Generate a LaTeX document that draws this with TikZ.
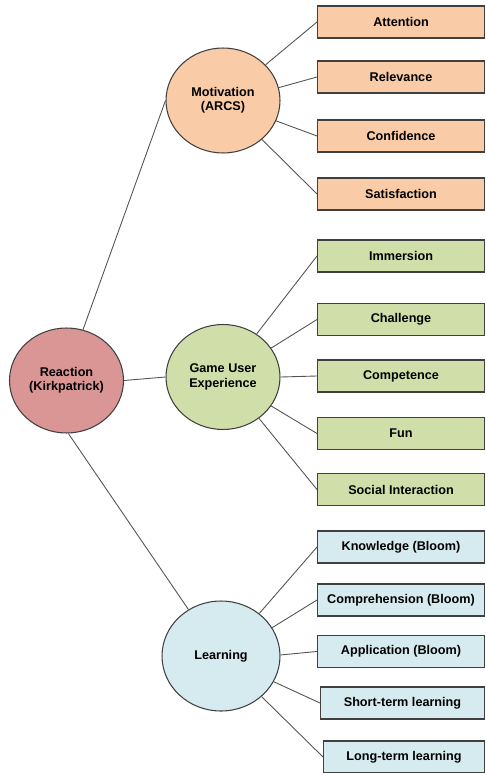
\documentclass[tikz,border=0pt]{standalone}
\usepackage{fontspec}
\setmainfont{Liberation Sans}
\usetikzlibrary{shapes.geometric}
\definecolor{reactred}{HTML}{D99694}
\definecolor{motorange}{HTML}{F9CBA6}
\definecolor{gamegreen}{HTML}{D0DFAA}
\definecolor{learnblue}{HTML}{D6EBF0}
\definecolor{edgegray}{HTML}{404040}
\tikzset{
  circ/.style={ellipse, draw=edgegray, line width=0.6pt, inner sep=0pt,
    minimum width=2.28cm, minimum height=2.1cm, align=center,
    font=\fontsize{7.2}{8.2}\selectfont\bfseries},
  box/.style={rectangle, draw=edgegray, line width=0.6pt, anchor=west,
    minimum width=3.34cm, minimum height=0.64cm, inner sep=0pt,
    font=\fontsize{7.2}{8.2}\selectfont\bfseries}
}
\begin{document}
\begin{tikzpicture}[x=0.02cm,y=-0.02cm]
      \useasboundingbox (0,0) rectangle (485,773);
      \draw
        (66.5,380.5) node[circ,fill=reactred] (react){Reaction\\(Kirkpatrick)}
        (223,100.5) node[circ,fill=motorange] (mot){Motivation\\(ARCS)}
        (223,377) node[circ,fill=gamegreen] (game){Game User\\Experience}
        (221,656) node[circ,fill=learnblue,minimum width=2.36cm,minimum height=2.2cm] (learn){Learning};
      \draw
        (317,22) node[box,fill=motorange] (att){Attention}
        (317,77) node[box,fill=motorange] (rel){Relevance}
        (317,136) node[box,fill=motorange] (conf){Confidence}
        (317,194) node[box,fill=motorange] (sat){Satisfaction}
        (317,256) node[box,fill=gamegreen] (imm){Immersion}
        (317,319.5) node[box,fill=gamegreen] (chal){Challenge}
        (317,376) node[box,fill=gamegreen] (comp){Competence}
        (317,433.5) node[box,fill=gamegreen] (fun){Fun}
        (317,489.5) node[box,fill=gamegreen] (soc){Social Interaction}
        (317,547) node[box,fill=learnblue] (know){Knowledge (Bloom)}
        (317,600) node[box,fill=learnblue] (compr){Comprehension (Bloom)}
        (317,651.5) node[box,fill=learnblue] (appl){Application (Bloom)}
        (320,703) node[box,fill=learnblue,minimum width=3.28cm] (short){Short-term learning}
        (323,757) node[box,fill=learnblue,minimum width=3.22cm] (long){Long-term learning};
      \begin{scope}[-,draw=edgegray!90,line width=0.5pt]
        \draw (react.72) to (mot.180);
        \draw (react.0) to (game.180);
        \draw (react.-88) to (learn.125);
        \draw (mot.40) to (att.west);
        \draw (mot.13) to (rel.west);
        \draw (mot.-21) to (conf.west);
        \draw (mot.-45) to (sat.west);
        \draw (game.52) to (imm.west);
        \draw (game.31) to (chal.west);
        \draw (game.0) to (comp.west);
        \draw (game.-31) to (fun.west);
        \draw (game.-49) to (soc.west);
        \draw (learn.48) to (know.west);
        \draw (learn.29) to (compr.west);
        \draw (learn.1) to (appl.west);
        \draw (learn.-26) to (short.west);
        \draw (learn.-45) to (long.west);
      \end{scope}
    \end{tikzpicture}
\end{document}
